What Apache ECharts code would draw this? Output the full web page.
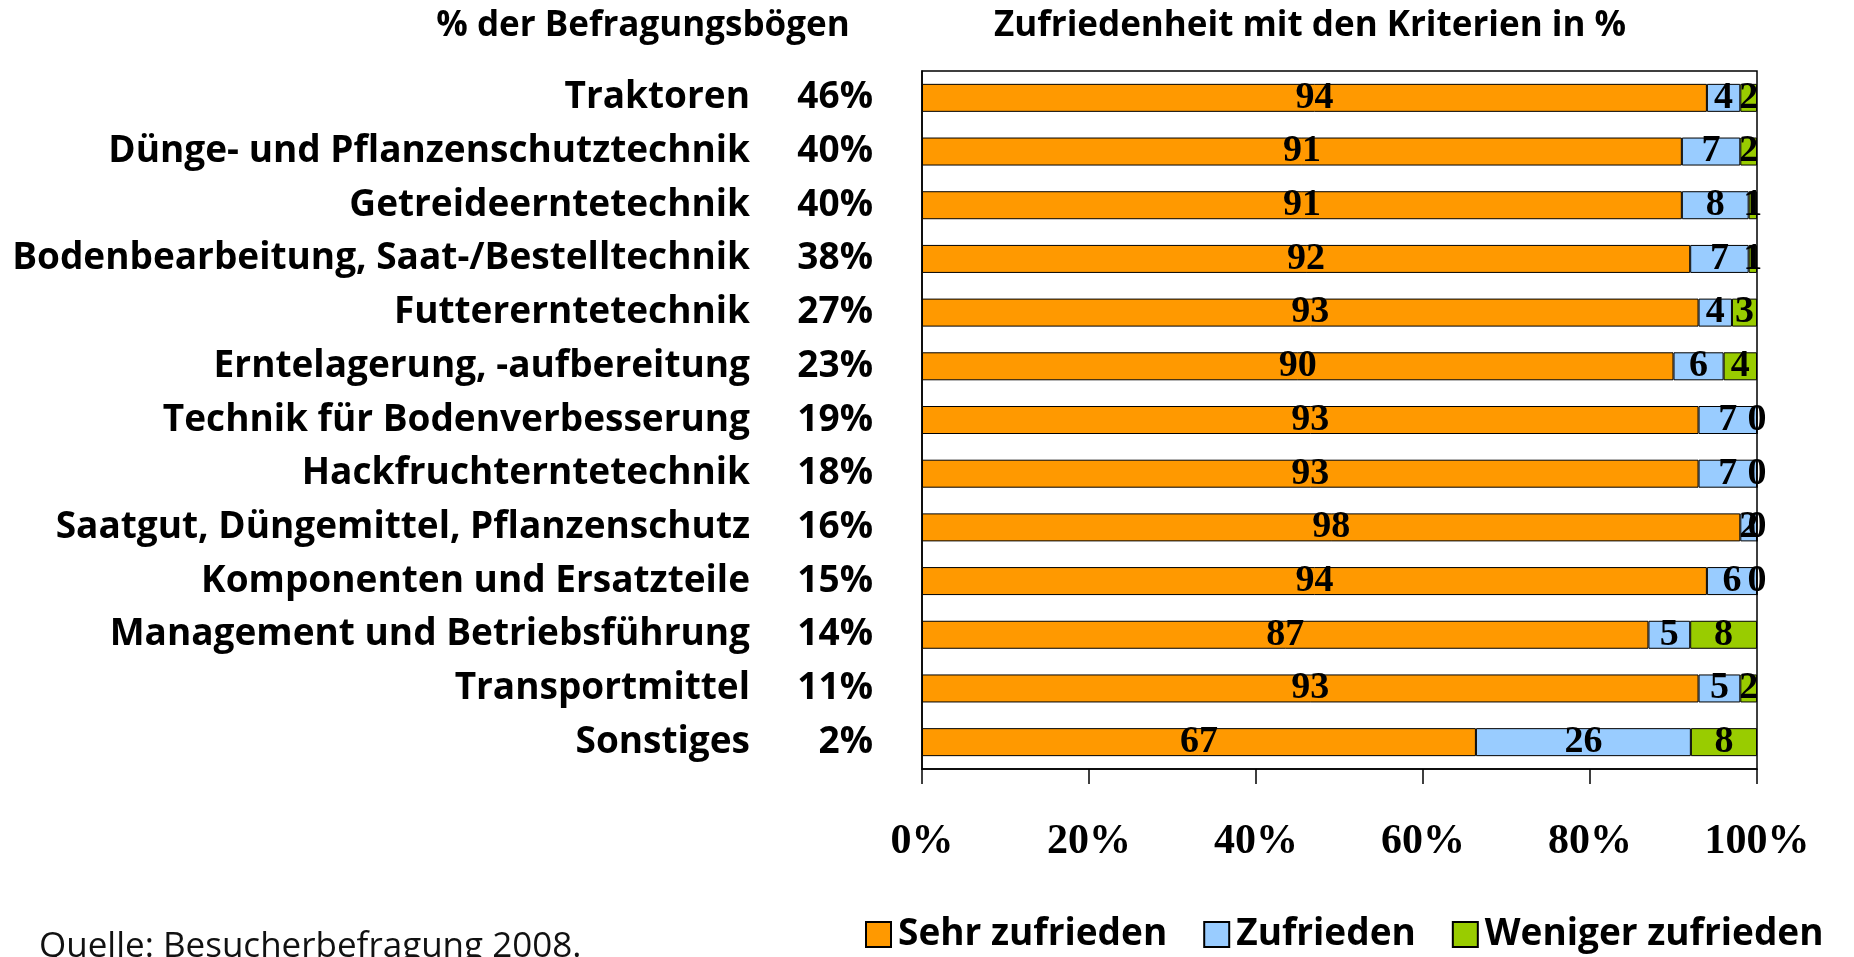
<!DOCTYPE html>
<html lang="de">
<head>
    <meta charset="UTF-8">
    <title>Zufriedenheit mit den Kriterien</title>
    <script src="https://cdn.jsdelivr.net/npm/echarts@6/dist/echarts.min.js"></script>
    <style>
        html, body { margin: 0; padding: 0; background: #ffffff; }
        #chart { width: 1854px; height: 957px; }
    </style>
</head>
<body>
<div id="chart"></div>
<script>
    // Kategorien und Anteil der Befragungsboegen
    var categories = ['Traktoren', 'Dünge- und Pflanzenschutztechnik', 'Getreideerntetechnik',
        'Bodenbearbeitung, Saat-/Bestelltechnik', 'Futtererntetechnik', 'Erntelagerung, -aufbereitung',
        'Technik für Bodenverbesserung', 'Hackfruchterntetechnik', 'Saatgut, Düngemittel, Pflanzenschutz',
        'Komponenten und Ersatzteile', 'Management und Betriebsführung', 'Transportmittel', 'Sonstiges'];
    var shares = [46, 40, 40, 38, 27, 23, 19, 18, 16, 15, 14, 11, 2];

    // Zufriedenheit in %
    var sehrZufrieden = [94, 91, 91, 92, 93, 90, 93, 93, 98, 94, 87, 93, 67];
    var zufrieden = [4, 7, 8, 7, 4, 6, 7, 7, 2, 6, 5, 5, 26];
    var wenigerZufrieden = [2, 2, 1, 1, 3, 4, 0, 0, 0, 0, 8, 2, 8];

    var xTicks = [0, 20, 40, 60, 80, 100];

    var sansFont = '"Open Sans", "Liberation Sans", sans-serif';
    var serifFont = '"Liberation Serif", "DejaVu Serif", serif';

    // 100%-Stapel: jede Zeile auf ihre Summe normieren, Beschriftung bleibt Rohwert
    function normed(arr) {
        var out = [];
        for (var i = 0; i < arr.length; i++) {
            var sum = sehrZufrieden[i] + zufrieden[i] + wenigerZufrieden[i];
            out.push(arr[i] / sum * 100);
        }
        return out;
    }

    function makeSeries(name, raw, color) {
        return {
            name: name,
            type: 'bar',
            stack: 'total',
            barWidth: 28,
            yAxisIndex: 0,
            data: normed(raw),
            itemStyle: { color: color, borderColor: '#000', borderWidth: 1 },
            label: {
                show: true,
                position: 'inside',
                color: '#000',
                textBorderWidth: 0,
                fontFamily: serifFont,
                fontWeight: 'bold',
                fontSize: 38,
                formatter: function (p) { return raw[p.dataIndex]; }
            },
            emphasis: { disabled: true }
        };
    }

    var option = {
        animation: false,
        grid: {
            left: 922, right: 97, top: 71, height: 698,
            show: true, borderColor: '#000', borderWidth: 1.5, backgroundColor: '#fff'
        },
        legend: {
            left: 860, top: 911,
            icon: 'rect', itemWidth: 25, itemHeight: 25, itemGap: 36,
            textStyle: { fontFamily: sansFont, fontWeight: 'bold', fontSize: 37, color: '#000', padding: [0, 0, 0, 2] },
            data: ['Sehr zufrieden', 'Zufrieden', 'Weniger zufrieden']
        },
        xAxis: {
            type: 'value', min: 0, max: 100, interval: 20,
            axisLine: { show: true, lineStyle: { color: '#000', width: 1.5 } },
            axisTick: { show: true, length: 15, lineStyle: { color: '#000', width: 1.5 } },
            splitLine: { show: false },
            axisLabel: {
                margin: 52, color: '#000', fontFamily: serifFont, fontWeight: 'bold', fontSize: 42,
                formatter: function (v) { return xTicks.indexOf(v) >= 0 ? v + '%' : ''; }
            }
        },
        yAxis: [{
            type: 'category', inverse: true, data: categories,
            axisLine: { show: true, lineStyle: { color: '#000', width: 1.5 } },
            axisTick: { show: false },
            axisLabel: { margin: 172, color: '#000', fontFamily: sansFont, fontWeight: 'bold', fontSize: 37 }
        }, {
            type: 'category', inverse: true, position: 'left', data: categories,
            axisLine: { show: false }, axisTick: { show: false },
            axisLabel: {
                margin: 49, color: '#000', fontFamily: sansFont, fontWeight: 'bold', fontSize: 37,
                formatter: function (v, i) { return shares[i] + '%'; }
            }
        }],
        graphic: [{
            type: 'text', x: 643, y: 26,
            style: { text: '% der Befragungsbögen', textAlign: 'center', textVerticalAlign: 'middle',
                font: 'bold 35px ' + sansFont, fill: '#000' }
        }, {
            type: 'text', x: 1310, y: 26,
            style: { text: 'Zufriedenheit mit den Kriterien in %', textAlign: 'center', textVerticalAlign: 'middle',
                font: 'bold 35px ' + sansFont, fill: '#000' }
        }, {
            type: 'text', x: 39, y: 947,
            style: { text: 'Quelle: Besucherbefragung 2008.', textAlign: 'left', textVerticalAlign: 'middle',
                font: '35px ' + sansFont, fill: '#111' }
        }],
        series: [
            makeSeries('Sehr zufrieden', sehrZufrieden, '#FF9900'),
            makeSeries('Zufrieden', zufrieden, '#99CCFF'),
            makeSeries('Weniger zufrieden', wenigerZufrieden, '#99CC00')
        ]
    };

    var chart = echarts.init(document.getElementById('chart'));
    chart.setOption(option);
</script>
</body>
</html>
